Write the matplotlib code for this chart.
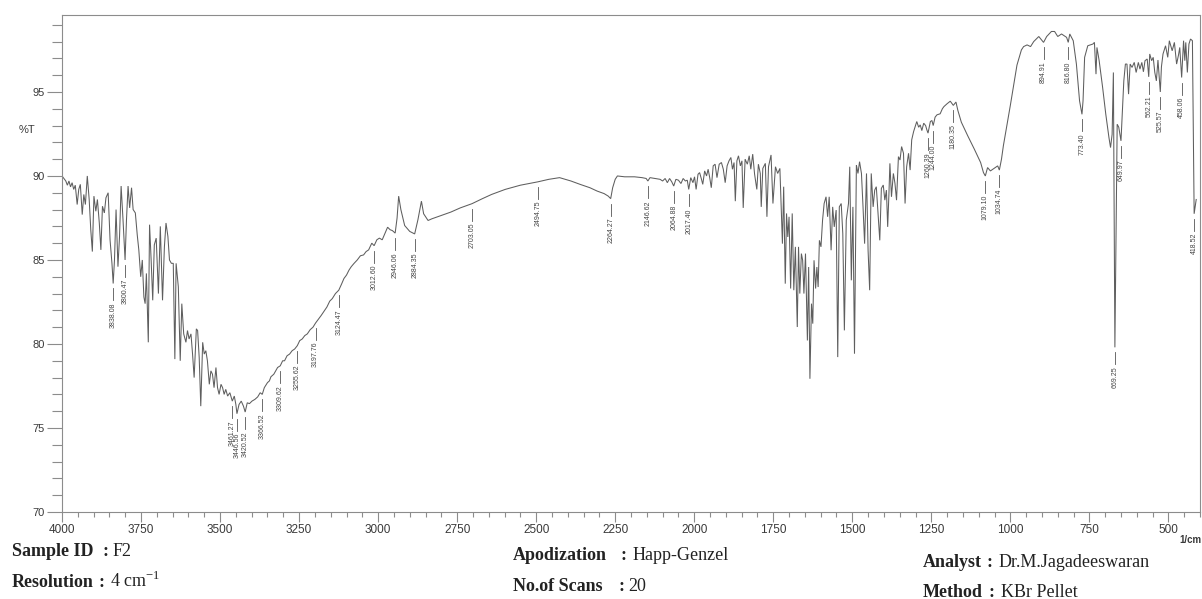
import numpy as np
import matplotlib
matplotlib.use("Agg")
import matplotlib.pyplot as plt
from matplotlib.ticker import MultipleLocator

W, H = 1202, 599

# ---- Spectrum, %T against wavenumber (1/cm), in descending order ----
# 4000-3366: O-H region with water-vapour lines
wn_oh = [4000, 3994, 3988, 3983, 3978, 3973, 3968, 3963, 3958, 3952, 3947, 3942,
         3936, 3931, 3926, 3920, 3914, 3909, 3904, 3899, 3893, 3888, 3882, 3877,
         3872, 3866, 3861, 3854, 3848, 3842, 3838.08, 3834, 3829, 3823, 3818, 3813,
         3807, 3800.47, 3796, 3791, 3786, 3780, 3775, 3768, 3762, 3757, 3751, 3746,
         3741, 3737, 3733, 3727, 3723, 3718, 3713, 3708, 3702, 3695, 3689, 3682,
         3676, 3671, 3665, 3660, 3654, 3648, 3643, 3639, 3632, 3626, 3621, 3615,
         3608, 3603, 3598, 3592, 3587, 3582, 3575, 3571, 3566, 3561, 3555, 3550,
         3545, 3540, 3534, 3529, 3524, 3519, 3513, 3508, 3503, 3497, 3492, 3487,
         3482, 3476, 3469, 3461.27, 3455, 3450, 3446.56, 3440, 3433, 3426, 3420.52,
         3414, 3407, 3399, 3390, 3381, 3373, 3366.52]
t_oh = [90.0, 89.85, 89.7, 89.45, 89.7, 89.35, 89.6, 89.2, 89.45, 88.3, 89.2, 89.5,
        87.7, 88.9, 88.3, 90.0, 88.6, 86.8, 85.5, 88.8, 87.9, 88.6, 87.2, 85.6,
        88.2, 87.8, 88.7, 89.0, 86.2, 84.8, 83.6, 85.0, 88.0, 84.6, 86.4, 89.4,
        87.4, 85.0, 87.4, 89.4, 88.1, 89.3, 88.0, 87.8, 86.5, 85.6, 84.0, 85.0,
        82.8, 82.4, 84.2, 80.1, 87.1, 85.0, 82.6, 85.9, 86.3, 83.0, 87.0, 82.6,
        85.8, 87.2, 86.4, 85.0, 84.8, 84.8, 79.1, 84.8, 83.4, 79.0, 82.4, 80.6,
        80.1, 80.8, 80.3, 80.6, 79.4, 78.0, 80.9, 80.8, 79.2, 76.3, 80.1, 79.4,
        79.6, 79.0, 77.6, 78.4, 78.2, 77.4, 78.6, 77.4, 77.0, 77.6, 77.4, 77.0,
        77.3, 76.9, 77.1, 76.6, 76.9, 76.4, 75.85, 76.4, 76.6, 76.3, 75.95,
        76.5, 76.45, 76.6, 76.7, 76.85, 77.1, 77.0]

# 3360-2189: C-H stretches and the flat 2500 region
wn_ch = [3360, 3350, 3344, 3339, 3330, 3324, 3318, 3309.62, 3302, 3296, 3288, 3280,
         3272, 3264, 3255.62, 3248, 3240, 3232, 3224, 3215, 3206, 3197.76, 3188,
         3180, 3171, 3162, 3153, 3145, 3135, 3124.47, 3116, 3108, 3100, 3092, 3085,
         3076, 3066, 3056, 3046, 3038, 3030, 3020, 3012.60, 3004, 2996, 2987, 2978,
         2970, 2962, 2955, 2946.06, 2940, 2935, 2928, 2916, 2900, 2884.35, 2874,
         2863, 2856, 2842, 2830, 2800, 2770, 2740, 2703.05, 2670, 2641, 2598, 2550,
         2494.75, 2460, 2426, 2390, 2361, 2330, 2307, 2285, 2272, 2264.27, 2258,
         2250, 2243, 2220, 2189]
t_ch = [77.4, 77.7, 77.8, 78.05, 78.2, 78.4, 78.6, 78.7, 79.0, 79.0, 79.3, 79.4,
        79.6, 79.7, 79.9, 80.2, 80.3, 80.5, 80.6, 80.85, 81.0, 81.25, 81.5,
        81.7, 81.95, 82.2, 82.55, 82.7, 83.0, 83.2, 83.55, 83.9, 84.1, 84.4, 84.6,
        84.8, 85.0, 85.25, 85.3, 85.5, 85.6, 86.0, 85.85, 86.2, 86.3, 86.2, 86.6,
        86.95, 86.8, 86.75, 86.6, 87.5, 88.8, 88.0, 87.05, 86.7, 86.55, 87.4,
        88.5, 87.75, 87.35, 87.45, 87.65, 87.85, 88.1, 88.35, 88.65, 88.9, 89.2, 89.45,
        89.65, 89.8, 89.9, 89.7, 89.5, 89.3, 89.1, 88.95, 88.8, 88.65, 89.3,
        89.8, 90.0, 89.95, 89.95]

# 2165-1797: overtone region with water-vapour lines
wn_ov = [2165, 2152, 2146.62, 2140, 2124, 2108, 2100, 2092, 2085, 2078, 2071, 2064.88,
         2058, 2050, 2042, 2035, 2028, 2022, 2017.40, 2011, 2004, 1999, 1994, 1988,
         1983, 1977, 1973, 1967, 1961, 1956, 1951, 1946, 1940, 1934, 1928, 1921,
         1914, 1908, 1902, 1896, 1890, 1884, 1879, 1874, 1870, 1865, 1860, 1854,
         1849, 1845, 1839, 1832, 1826, 1821, 1815, 1809, 1802, 1797]
t_ov = [89.9, 89.85, 89.7, 89.9, 89.85, 89.8, 89.7, 89.85, 89.6, 89.85, 89.65, 89.4,
        89.8, 89.75, 89.55, 89.85, 89.7, 89.75, 89.2, 89.9, 89.6, 89.95, 89.2, 90.1,
        90.2, 89.8, 89.5, 90.3, 90.0, 90.4, 89.9, 89.3, 90.6, 90.7, 89.9, 90.7,
        90.8, 90.4, 89.6, 90.6, 90.9, 91.1, 90.4, 90.8, 88.5, 90.9, 91.2, 90.6,
        90.9, 88.1, 91.0, 90.7, 91.2, 90.4, 91.3, 90.1, 89.2, 90.7]

# 1791-1306: carbonyl / aromatic region with dense water-vapour lines
wn_fp = [1791, 1788, 1783, 1775, 1770, 1765, 1757, 1751, 1743, 1736, 1729, 1725,
         1721, 1717, 1712, 1708, 1704, 1700, 1695, 1690, 1685, 1680, 1674, 1670,
         1666, 1661, 1657, 1653, 1648, 1642, 1638, 1634, 1629, 1625, 1621, 1616,
         1612, 1608, 1604, 1599, 1594, 1589, 1583, 1578, 1573, 1567, 1562, 1557,
         1551, 1546, 1541, 1535, 1530, 1525, 1519, 1512, 1508, 1503, 1498, 1493,
         1487, 1482, 1477, 1471, 1466, 1461, 1455, 1450, 1445, 1440, 1434, 1429,
         1424, 1418, 1413, 1408, 1402, 1397, 1392, 1388, 1384, 1381, 1376, 1370,
         1365, 1360, 1354, 1349, 1344, 1338, 1333, 1328, 1322, 1317, 1312, 1306]
t_fp = [90.15, 88.16, 90.45, 90.75, 87.57, 90.55, 91.25, 88.36, 90.55, 90.15, 90.45, 88.16,
        85.97, 89.36, 83.59, 87.77, 86.37, 87.57, 83.30, 87.77, 83.20, 85.78, 81.01, 85.78,
        83.00, 85.38, 84.98, 83.00, 85.38, 80.21, 84.58, 77.93, 82.40, 81.21, 84.98, 83.30,
        84.58, 83.39, 86.17, 85.78, 87.37, 88.36, 88.76, 87.57, 88.76, 85.58, 88.16, 86.97,
        87.97, 79.22, 88.16, 88.36, 86.57, 80.81, 87.37, 88.36, 90.55, 83.79, 88.16, 79.42,
        90.65, 90.15, 90.85, 90.15, 88.16, 85.97, 90.15, 85.58, 83.20, 90.15, 88.16, 89.16,
        89.36, 87.57, 86.17, 89.26, 89.46, 88.56, 89.16, 86.97, 88.96, 90.75, 88.76, 90.15,
        89.56, 88.56, 91.15, 90.95, 91.75, 91.35, 88.36, 90.55, 91.35, 90.35, 92.15, 92.64]

# 1296-412: fingerprint region
wn_low = [1296, 1290, 1285, 1280, 1274, 1268, 1264, 1260.39, 1253, 1248, 1244.00, 1238,
          1232, 1222, 1215, 1210, 1200, 1190, 1180.35, 1172, 1166, 1155, 1145, 1135,
          1114, 1094, 1085, 1079.10, 1072, 1063, 1048, 1040, 1034.74, 1028, 1022, 1000,
          979, 965, 958, 947, 936, 926, 910, 894.91, 885, 870, 860, 850, 838, 822,
          816.80, 812, 801, 791, 781, 773.40, 770, 765, 755, 739, 734, 729, 726, 719,
          708, 698, 688, 683, 678, 674, 669.25, 662, 657, 649.97, 646, 641, 636, 631,
          626, 621, 615, 608, 602, 595, 590, 584, 579, 574, 567, 562.21, 559, 553,
          548, 543, 538, 533, 525.57, 522, 517, 509, 502, 497, 488, 481, 474, 468,
          464, 458.06, 452, 448, 445, 440, 435, 430, 424, 418.52, 412]
t_low = [93.24, 92.9, 93.04, 92.7, 93.14, 93.0, 92.74, 92.55, 93.24, 93.3, 93.0, 93.5,
         93.64, 93.7, 94.0, 94.13, 94.3, 94.45, 94.2, 94.4, 93.9, 93.2, 92.8, 92.4,
         91.6, 90.8, 90.2, 90.0, 90.5, 90.3, 90.5, 90.6, 90.35, 91.0, 91.8, 94.2,
         96.6, 97.5, 97.7, 97.8, 97.7, 98.0, 98.3, 97.95, 98.3, 98.6, 98.6, 98.3, 98.45, 98.25,
         97.95, 98.45, 98.05, 96.66, 94.47, 93.67, 94.47, 97.06, 97.75, 97.85, 97.95, 96.06, 97.65, 96.86,
         95.26, 93.67, 92.28, 91.69, 92.48, 96.16, 79.8, 93.08, 92.9, 92.09, 93.67, 95.66, 96.66, 96.66,
         94.87, 96.66, 96.46, 96.76, 96.16, 96.76, 96.36, 96.76, 96.2, 96.86, 96.96, 95.9, 97.26, 96.86,
         97.06, 96.16, 95.66, 96.9, 95.0, 96.5, 97.26, 97.75, 97.06, 98.05, 97.45, 97.95, 96.66, 97.2,
         97.65, 95.86, 98.05, 96.86, 97.95, 96.16, 97.85, 98.15, 98.05, 87.75, 88.6]

# Picked peaks (1/cm)
peak_wn = [3838.08, 3800.47, 3461.27, 3446.56, 3420.52, 3366.52, 3309.62, 3255.62,
           3197.76, 3124.47, 3012.60, 2946.06, 2884.35, 2703.05, 2494.75, 2264.27,
           2146.62, 2064.88, 2017.40, 1260.39, 1244.00, 1180.35, 1079.10, 1034.74,
           894.91, 816.80, 773.40, 669.25, 649.97, 562.21, 525.57, 458.06, 418.52]

# Axis ranges and ticks
x_range = (4000, 400)
y_range = (70, 99.58)
y_ticks = [70, 75, 80, 85, 90, 95]

# Acquisition details printed under the plot
info = [
    # (label, colon x, value, label x, value x, baseline y)
    ("Sample ID", 103, "F2", 12, 113, 556),
    ("Resolution", 99, "4 cm$^{\\mathregular{-1}}$", 12, 110, 587),
    ("Apodization", 620, "Happ-Genzel", 513, 633, 560),
    ("No.of Scans", 618, "20", 513, 628, 591),
    ("Analyst", 986, "Dr.M.Jagadeeswaran", 923, 999, 567),
    ("Method", 988, "KBr Pellet", 923, 1001, 597),
]

wavenumber = np.array(wn_oh + wn_ch + wn_ov + wn_fp + wn_low, dtype=float)
transmittance = np.array(t_oh + t_ch + t_ov + t_fp + t_low, dtype=float)

line_col = "#5e5e5e"
frame_col = "#8c8c8c"
text_col = "#3a3a3a"

fig = plt.figure(figsize=(W / 100, H / 100), dpi=100)
fig.patch.set_facecolor("white")
left_px, right_px, top_px, bottom_px = 62, 1200, 15, 512
ax = fig.add_axes([left_px / W, 1 - bottom_px / H,
                   (right_px - left_px) / W, (bottom_px - top_px) / H])

ax.plot(wavenumber, transmittance, color=line_col, lw=0.75, solid_joinstyle="miter")

ax.set_xlim(*x_range)
ax.set_ylim(*y_range)
ax.xaxis.set_major_locator(MultipleLocator(250))
ax.xaxis.set_minor_locator(MultipleLocator(50))
ax.set_yticks(y_ticks)
ax.yaxis.set_minor_locator(MultipleLocator(1))

for s in ax.spines.values():
    s.set_color(frame_col)
    s.set_linewidth(0.8)

ax.tick_params(axis="y", which="major", direction="out", length=11, width=0.8,
               color=frame_col, pad=1.5, labelsize=8, labelcolor=text_col)
ax.tick_params(axis="y", which="minor", direction="out", length=7, width=0.8,
               color=frame_col)
ax.tick_params(axis="x", which="major", direction="out", length=7, width=0.8,
               color=frame_col, pad=1.5, labelsize=8.5, labelcolor=text_col)
ax.tick_params(axis="x", which="minor", direction="out", length=3.5, width=0.8,
               color=frame_col)
for lab in ax.get_xticklabels() + ax.get_yticklabels():
    lab.set_family(["Liberation Sans", "DejaVu Sans"])

# Peak labels: short stem below each minimum, value written vertically below it
px_per_t = (bottom_px - top_px) / (y_range[1] - y_range[0])
gap = 5 / px_per_t
stem = 12 / px_per_t
order = np.argsort(wavenumber)
peak_t = np.interp(peak_wn, wavenumber[order], transmittance[order])
for wn, t in zip(peak_wn, peak_t):
    top = t - gap
    ax.plot([wn, wn], [top, top - stem], color="#555555", lw=0.6)
    ax.text(wn, top - stem - 2 / px_per_t, f"{wn:.2f}", rotation=90,
            ha="center", va="top", fontsize=5, color="#444444",
            family=["Liberation Sans Narrow", "Liberation Sans", "DejaVu Sans"])

fig.text(27 / W, 1 - 130 / H, "%T", ha="center", va="center", fontsize=8,
         color=text_col, family=["Liberation Sans", "DejaVu Sans"])
fig.text(1201 / W, 1 - 543 / H, "1/cm", ha="right", va="baseline", fontsize=7,
         color=text_col, weight="bold", family=["Liberation Sans", "DejaVu Sans"])

serif = ["Liberation Serif", "DejaVu Serif"]
for label, colon_x, value, label_x, value_x, base_y in info:
    yy = 1 - base_y / H
    fig.text(label_x / W, yy, label, ha="left", va="baseline", fontsize=13,
             weight="bold", color="#222222", family=serif)
    fig.text(colon_x / W, yy, ":", ha="left", va="baseline", fontsize=13,
             weight="bold", color="#222222", family=serif)
    fig.text(value_x / W, yy, value, ha="left", va="baseline", fontsize=13,
             color="#222222", family=serif)

fig.savefig("out.png", dpi=100, facecolor="white")
